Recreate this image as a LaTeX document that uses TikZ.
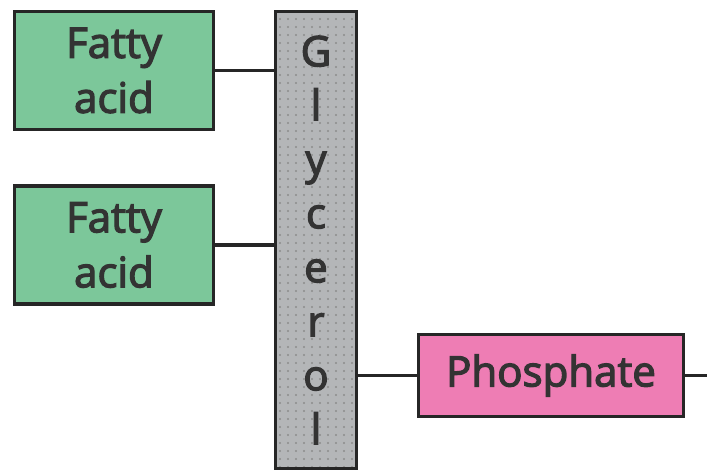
\documentclass[tikz,border=0pt]{standalone}
\usepackage{fontspec}
\setmainfont{Open Sans}
\newfontfamily\boxfont{Open Sans}[FakeBold=3]
\usetikzlibrary{patterns.meta}
\definecolor{acidgreen}{RGB}{124,199,154}
\definecolor{phospink}{RGB}{238,125,180}
\definecolor{glygray}{RGB}{180,182,184}

\begin{document}
\begin{tikzpicture}[x=1pt,y=-1pt,
		box/.style={draw=black!85,line width=3.5pt,inner sep=0pt,align=center,
			font=\boxfont\fontsize{42}{55}\selectfont\color{black!80}},
		bond/.style={black!85,line width=3.5pt}]
		\useasboundingbox (0,0) rectangle (707,475);
		\node[box,fill=acidgreen,minimum width=199pt,minimum height=118pt] (fa1) at (114,70.5) {Fatty\\acid};
		\node[box,fill=acidgreen,minimum width=199pt,minimum height=118pt] (fa2) at (114,245) {Fatty\\acid};
		\node[box,preaction={fill=glygray},pattern={Dots[distance=8pt,radius=1.1pt]},pattern color=black!45,
			minimum width=81pt,minimum height=457pt,font=\boxfont\fontsize{42}{54}\selectfont\color{black!80}] (gly) at (316,240) {G\\l\\y\\c\\e\\r\\o\\l};
		\node[box,fill=phospink,minimum width=265pt,minimum height=82pt] (pho) at (551,375.5) {Phosphate};
		\coordinate (tail) at (707,375.5);
		\draw[bond] (fa1.east) -- (fa1.east -| gly.west);
		\draw[bond] (fa2.east) -- (fa2.east -| gly.west);
		\draw[bond] (pho.west -| gly.east) -- (pho.west);
		\draw[bond] (pho.east) -- (tail);
\end{tikzpicture}
\end{document}
